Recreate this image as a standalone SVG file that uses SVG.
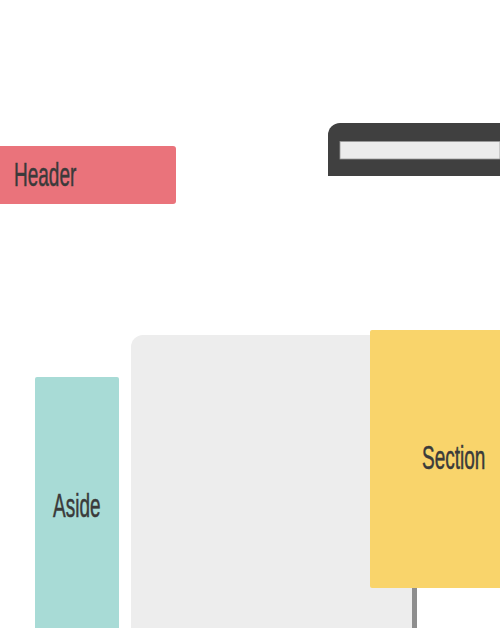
<svg xmlns="http://www.w3.org/2000/svg" width="500" height="628" viewBox="0 0 500 628">
<style>
.lbl{font-family:"Liberation Sans",Arial,sans-serif;font-size:19px;fill:#3a3a3a;stroke:#3a3a3a;stroke-width:0.3}
</style>
<rect width="500" height="628" fill="#ffffff"/>
<g id="header">
<path d="M0,146 H173 a3,3 0 0 1 3,3 V201 a3,3 0 0 1 -3,3 H0 Z" fill="#ea737b"/>
<text class="lbl" transform="translate(14,186) scale(1,1.7)">Header</text>
</g>
<g id="nav">
<path d="M328,176 V135 a12,12 0 0 1 12,-12 H500 V176 Z" fill="#404040"/>
<rect x="340" y="141.5" width="160" height="17.5" fill="#ececec" stroke="#9a9a9a" stroke-width="0.8"/>
</g>
<g id="main">
<path d="M131,628 V347 a12,12 0 0 1 12,-12 H412 V628 Z" fill="#ededed"/>
</g>
<g id="connectors">
<rect x="412" y="588" width="5" height="40" fill="#8e8e8e"/>
</g>
<g id="aside">
<rect x="35" y="377" width="84" height="260" rx="2" fill="#a8dbd6"/>
<text class="lbl" transform="translate(53,517) scale(1,1.75)">Aside</text>
</g>
<g id="section">
<rect x="370" y="330" width="140" height="258" rx="2" fill="#f9d46b"/>
<text class="lbl" transform="translate(422,469) scale(1,1.7)">Section</text>
</g>
</svg>
